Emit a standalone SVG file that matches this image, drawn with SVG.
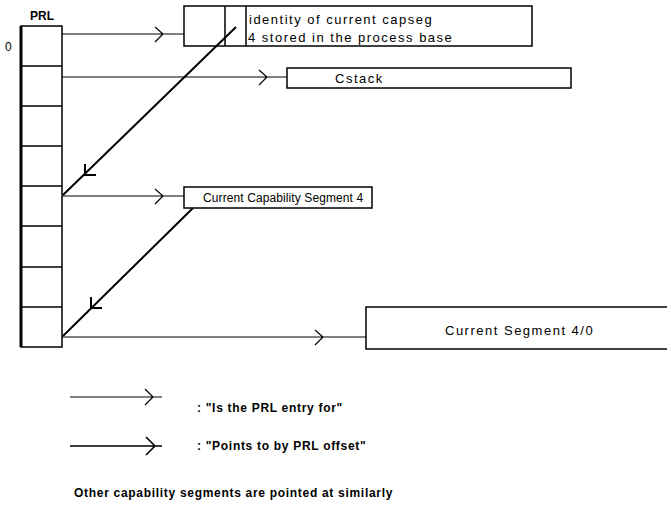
<svg xmlns="http://www.w3.org/2000/svg" width="671" height="512" viewBox="0 0 671 512">
<style>
.box{fill:#fff;stroke:#000;stroke-width:1.5}
.t{font-family:"Liberation Sans",Arial,sans-serif;font-size:13px;letter-spacing:1.5px;fill:#000}
.b{font-family:"Liberation Sans",Arial,sans-serif;font-size:12px;font-weight:bold;letter-spacing:0.7px;fill:#000}
.ln{stroke:#000;stroke-width:1.2;fill:none}
.dg{stroke:#000;stroke-width:2;fill:none}
</style>
<rect width="671" height="512" fill="#fff"/>
<g id="prl">
<text class="b" x="30" y="20" style="letter-spacing:0">PRL</text>
<text class="t" x="5" y="51" style="letter-spacing:0;font-size:12px">0</text>
<rect class="box" x="21" y="26" width="41" height="321"/>
<line x1="21" y1="26" x2="21" y2="347" stroke="#000" stroke-width="3"/>
<path class="ln" d="M21 66H62M21 106H62M21 146H62M21 186H62M21 226H62M21 267H62M21 307H62" style="stroke-width:1.5"/>
</g>
<g id="capseg-id">
<rect class="box" x="184" y="6" width="348" height="40"/>
<path class="ln" d="M225 6V46M246 6V46" style="stroke-width:1.5"/>
<text class="t" x="249" y="24">identity of current capseg</text>
<text class="t" x="248" y="42">4 stored in the process base</text>
</g>
<g id="cstack">
<rect class="box" x="287" y="68" width="284" height="20"/>
<text class="t" x="335" y="83">Cstack</text>
</g>
<g id="capseg4">
<rect class="box" x="184" y="187" width="188" height="21"/>
<text class="t" x="203" y="202" style="font-size:12px;letter-spacing:0.1px">Current Capability Segment 4</text>
</g>
<g id="seg40">
<path class="box" d="M667 307H366V349H667"/>
<text class="t" x="445" y="335">Current Segment 4/0</text>
</g>
<g id="connectors">
<path class="ln" d="M62 34H184M155 27L163 34L155 42"/>
<path class="ln" d="M62 77H287M259 70L267 77L259 85"/>
<path class="ln" d="M62 196H184M155 189L163 196L155 204"/>
<path class="ln" d="M62 337H366M315 330L323 337L315 345"/>
<path class="dg" d="M236 27L63 195M85 164V175H96"/>
<path class="dg" d="M193 208L63 336M91 297V308H102"/>
</g>
<g id="legend">
<path class="ln" d="M70 397H162M145 389L153 397L145 405"/>
<path class="dg" d="M70 446H162M146 437L155 446L146 455" style="stroke-width:1.6"/>
<text class="b" x="197" y="412">: "Is the PRL entry for"</text>
<text class="b" x="197" y="450">: "Points to by PRL offset"</text>
<text class="b" x="74" y="497">Other capability segments are pointed at similarly</text>
</g>
</svg>
